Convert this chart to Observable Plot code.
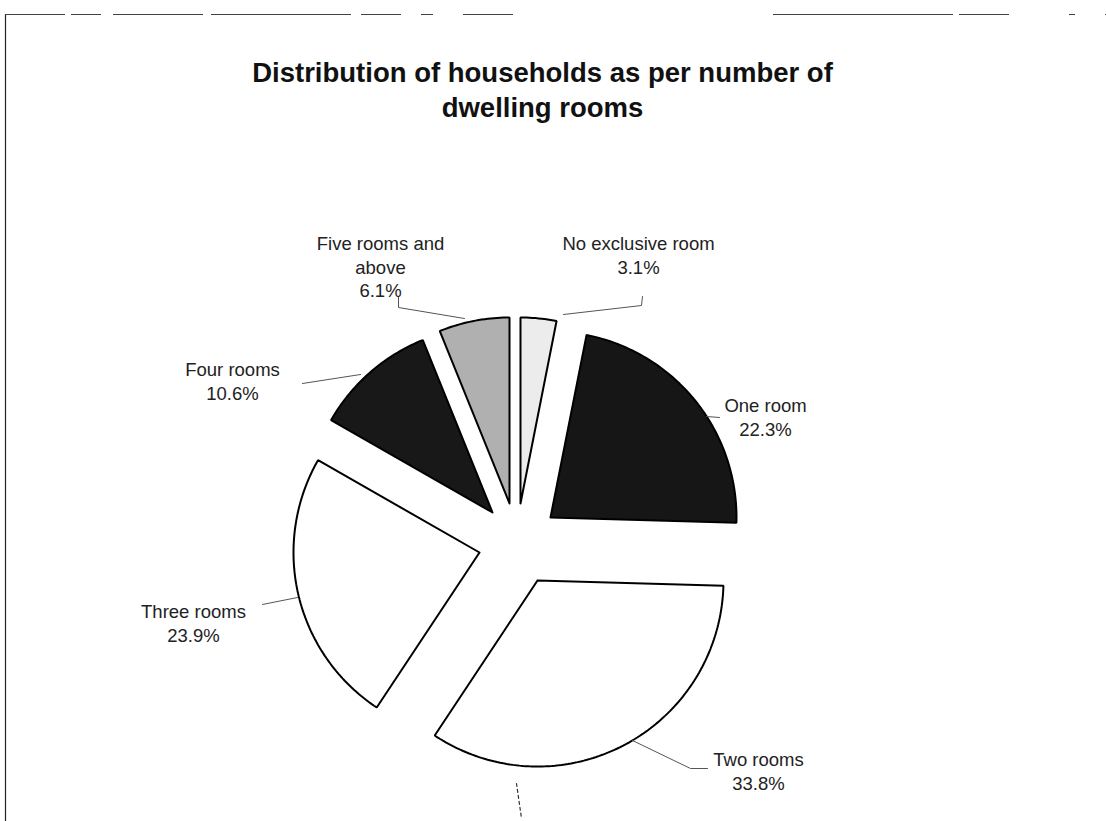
<!DOCTYPE html>
<html>
<head>
<meta charset="utf-8">
<script src="https://cdn.jsdelivr.net/npm/d3@7"></script>
<script src="https://cdn.jsdelivr.net/npm/@observablehq/plot@0.6"></script>
<style>
  html, body { margin: 0; padding: 0; background: #fff; }
  #chart svg { display: block; }
</style>
</head>
<body>
<div id="chart"></div>
<script>
// ---- data ----
const categories = ["No exclusive room", "One room", "Two rooms", "Three rooms", "Four rooms", "Five rooms and above"];
const shares = [3.1, 22.3, 33.8, 23.9, 10.6, 6.1];
const nameLines = [["No exclusive room"], ["One room"], ["Two rooms"], ["Three rooms"], ["Four rooms"], ["Five rooms and", "above"]];
const titleLines = ["Distribution of households as per number of", "dwelling rooms"];

// ---- layout / style (pixel space of the picture) ----
const W = 1106, H = 821;
const R = 186;
const sliceOrigin = [[520, 503], [550, 517], [537, 580], [479, 552], [492, 512], [509, 503]];
const sliceFill = ["#ececec", "#161616", "#ffffff", "#ffffff", "#181818", "#b0b0b0"];
const labelAt = [[638, 244], [765, 406], [758, 760], [193, 612], [232, 370], [380, 244]];
const lineGap = 23.5;
const leaderPaths = [
  [[642, 296], [641, 305], [563, 314]],
  [[706, 416], [719, 417]],
  [[632, 740], [690, 768], [707, 768]],
  [[262, 604], [297, 597]],
  [[302, 383], [360, 374]],
  [[398, 296], [398, 307], [464, 318]]
];
const scanMarks = [[[516, 783], [521, 818]]];

// ---- build slices from the data ----
const arcs = d3.pie().sort(null).value(d => d)(shares);
const slicePts = [];
arcs.forEach((a, i) => {
  const [ox, oy] = sliceOrigin[i];
  slicePts.push({k: i, x: ox, y: oy});
  const n = Math.max(4, Math.ceil((a.endAngle - a.startAngle) / (Math.PI / 180)));
  for (let j = 0; j <= n; j++) {
    const t = a.startAngle + (a.endAngle - a.startAngle) * j / n;
    slicePts.push({k: i, x: ox + R * Math.sin(t), y: oy - R * Math.cos(t)});
  }
  slicePts.push({k: i, x: ox, y: oy});
});

const labelRows = [];
categories.forEach((c, i) => {
  const lines = [...nameLines[i], `${shares[i].toFixed(1)}%`];
  lines.forEach((s, j) => labelRows.push({x: labelAt[i][0], y: labelAt[i][1] + j * lineGap, s}));
});

const leaderRows = leaderPaths.flatMap((p, i) => p.map(([x, y]) => ({k: i, x, y})));
const scanRows = scanMarks.flatMap((p, i) => p.map(([x, y]) => ({k: i, x, y})));

const titleRows = titleLines.map((s, j) => ({x: 542, y: 73 + j * 35, s}));

const marks = [];
// scan frame
marks.push(Plot.ruleX([5], {y1: 14, y2: H, stroke: "#222", strokeWidth: 1.2}));
marks.push(Plot.ruleY([14], {x1: 5, x2: W, stroke: "#444", strokeWidth: 1, strokeDasharray: "60 6 30 12 90 8 140 10 40 20 12 30 50 260 180 6 50"}));

categories.forEach((c, i) => {
  marks.push(Plot.line(slicePts.filter(d => d.k === i), {
    x: "x", y: "y", fill: sliceFill[i], stroke: "#000", strokeWidth: 2, strokeLinejoin: "miter", curve: "linear"
  }));
});

marks.push(Plot.line(leaderRows, {x: "x", y: "y", z: "k", stroke: "#555", strokeWidth: 1}));
marks.push(Plot.line(scanRows, {x: "x", y: "y", z: "k", stroke: "#333", strokeWidth: 1.2, strokeDasharray: "3 3"}));
marks.push(Plot.text(labelRows, {x: "x", y: "y", text: "s", fontSize: 18.5, fill: "#222", fontFamily: "Liberation Sans, Arial, sans-serif"}));
marks.push(Plot.text(titleRows, {x: "x", y: "y", text: "s", fontSize: 27.5, fontWeight: "bold", fill: "#111", fontFamily: "Liberation Sans, Arial, sans-serif"}));

const chart = Plot.plot({
  width: W, height: H,
  margin: 0,
  x: {domain: [0, W], range: [0, W], axis: null},
  y: {domain: [0, H], range: [0, H], axis: null},
  style: {background: "#fff", fontFamily: "Liberation Sans, Arial, sans-serif"},
  marks
});
document.getElementById("chart").append(chart);
</script>
</body>
</html>
